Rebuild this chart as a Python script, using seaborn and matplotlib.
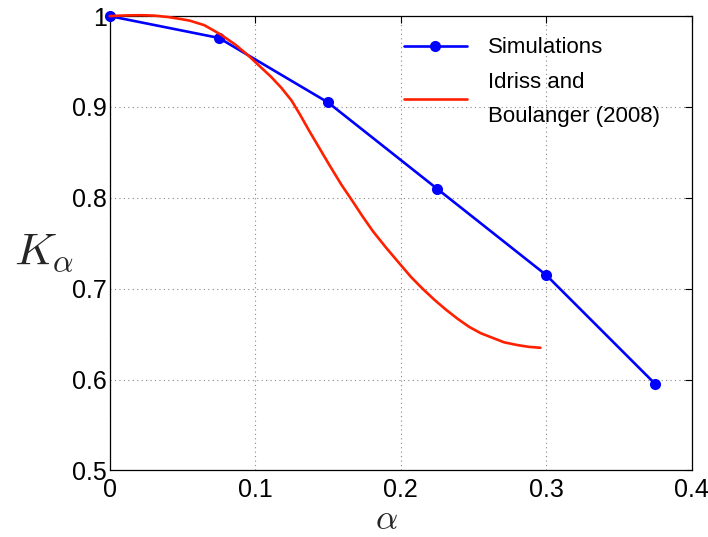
import matplotlib
matplotlib.use("Agg")
import matplotlib.pyplot as plt
import seaborn as sns
import pandas as pd

# Data
sim_alpha = [0.0, 0.075, 0.15, 0.225, 0.3, 0.375]
sim_k = [1.0, 0.976, 0.905, 0.81, 0.715, 0.595]

ib_alpha = [0.0, 0.005, 0.012, 0.022, 0.031, 0.04, 0.048, 0.055, 0.065, 0.076, 0.086,
            0.095, 0.103, 0.111, 0.118, 0.125, 0.131, 0.137, 0.144, 0.151, 0.159,
            0.167, 0.174, 0.181, 0.190, 0.199, 0.207, 0.215, 0.223, 0.231, 0.239,
            0.247, 0.255, 0.263, 0.271, 0.280, 0.288, 0.296]
ib_k = [1.0, 1.0004, 1.0008, 1.001, 1.0005, 0.999, 0.997, 0.995, 0.990, 0.980, 0.969,
        0.957, 0.945, 0.933, 0.921, 0.907, 0.891, 0.874, 0.855, 0.836, 0.815,
        0.796, 0.779, 0.763, 0.745, 0.728, 0.713, 0.700, 0.688, 0.677, 0.667,
        0.658, 0.651, 0.646, 0.641, 0.638, 0.636, 0.635]

xticks = [0, 0.1, 0.2, 0.3, 0.4]
xticklabels = ["0", "0.1", "0.2", "0.3", "0.4"]
yticks = [0.5, 0.6, 0.7, 0.8, 0.9, 1.0]
yticklabels = ["0.5", "0.6", "0.7", "0.8", "0.9", "1"]

sim_label = "Simulations"
ib_label = "Idriss and\nBoulanger (2008)"

sns.set_theme(style="white")
plt.rcParams["font.family"] = ["Liberation Sans", "DejaVu Sans"]
plt.rcParams["mathtext.fontset"] = "cm"
plt.rcParams["text.color"] = "black"

fig = plt.figure(figsize=(7.08, 5.37), dpi=100)
ax = fig.add_axes([0.155, 0.124, 0.822, 0.846])

df_sim = pd.DataFrame({"alpha": sim_alpha, "K": sim_k})
df_ib = pd.DataFrame({"alpha": ib_alpha, "K": ib_k})

sns.lineplot(data=df_sim, x="alpha", y="K", ax=ax, color="#0000FF", linewidth=1.9,
             marker="o", markersize=8, markeredgewidth=0, label=sim_label,
             zorder=3, clip_on=False)
sns.lineplot(data=df_ib, x="alpha", y="K", ax=ax, color="#FF2000", linewidth=1.9,
             label=ib_label, zorder=4, clip_on=False)

ax.set_xlim(0, 0.4)
ax.set_ylim(0.5, 1.0)
ax.set_xticks(xticks)
ax.set_xticklabels(xticklabels)
ax.set_yticks(yticks)
ax.set_yticklabels(yticklabels)
ax.tick_params(direction="in", top=True, right=True, length=5, width=0.8,
               labelsize=18, colors="black")
ax.tick_params(axis="x", pad=5.5)
ax.tick_params(axis="y", pad=2)
ax.grid(True, linestyle=(0, (1, 3)), color="#888888", linewidth=0.8)
for s in ax.spines.values():
    s.set_color("black")
    s.set_linewidth(0.9)

ax.set_xlabel(r"$\alpha$", fontsize=25)
ax.xaxis.set_label_coords(0.476, -0.072)
ax.xaxis.label.set_va("top")
ax.set_ylabel(r"$K_\alpha$", fontsize=33, rotation=0, va="center", ha="center")
ax.yaxis.set_label_coords(-0.112, 0.48)

leg = ax.legend(loc="upper left", bbox_to_anchor=(0.505, 0.953), frameon=False,
                fontsize=16, handlelength=2.85, labelspacing=0.6, handletextpad=0.95,
                borderpad=0, borderaxespad=0)
for t in leg.get_texts():
    t.set_color("black")
leg.get_texts()[1].set_linespacing(1.8)

fig.savefig("out.png", dpi=100)
